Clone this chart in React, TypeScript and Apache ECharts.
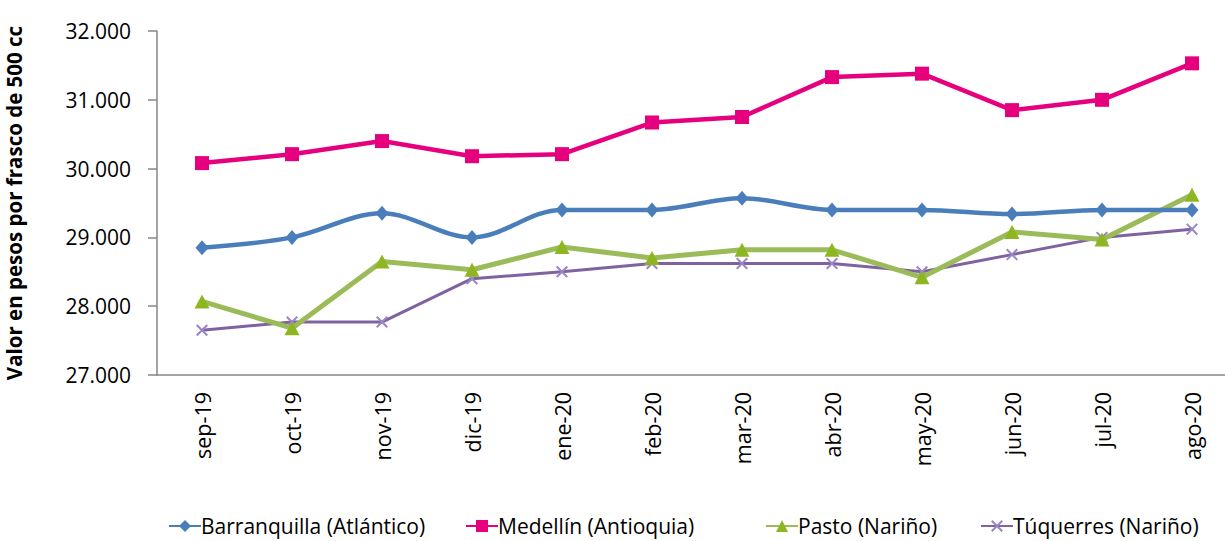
import React, { useEffect, useRef } from "react";
import * as echarts from "echarts";

const categories = ["sep-19", "oct-19", "nov-19", "dic-19", "ene-20", "feb-20", "mar-20", "abr-20", "may-20", "jun-20", "jul-20", "ago-20"];
const barranquilla = [28850, 29000, 29350, 29000, 29400, 29400, 29570, 29400, 29400, 29340, 29400, 29400];
const medellin = [30080, 30210, 30400, 30180, 30210, 30670, 30750, 31330, 31380, 30850, 31000, 31530];
const pasto = [28070, 27680, 28650, 28530, 28860, 28700, 28820, 28820, 28420, 29080, 28970, 29620];
const tuquerres = [27650, 27770, 27770, 28400, 28500, 28620, 28620, 28620, 28500, 28750, 29000, 29120];
const seriesNames = ["Barranquilla (Atlántico)", "Medellín (Antioquia)", "Pasto (Nariño)", "Túquerres (Nariño)"];

const FONT = "'Open Sans', 'Noto Sans', sans-serif";
const X_SYMBOL = "path://M0,1.2L1.2,0L10,8.8L8.8,10Z M8.8,0L10,1.2L1.2,10L0,8.8Z";
const legendLefts = [168, 465, 765, 980];

export default function App() {
  const ref = useRef<HTMLDivElement>(null);
  useEffect(() => {
    if (!ref.current) return;
    const chart = echarts.init(ref.current, null, { renderer: "svg" });
    chart.setOption({
      animation: false,
      backgroundColor: "#ffffff",
      textStyle: { fontFamily: FONT },
      grid: { left: 157, right: -12, top: 31, bottom: 166, containLabel: false, outerBoundsMode: "none" },
      legend: seriesNames.map((n, i) => ({
        left: legendLefts[i],
        top: 515,
        padding: 0,
        itemWidth: 32,
        itemHeight: 15,
        selectedMode: false,
        textStyle: { fontSize: 21, lineHeight: 22, color: "#000", fontFamily: FONT, padding: [0, 0, 0, -5] },
        data: [n],
      })),
      xAxis: {
        type: "category",
        data: categories,
        boundaryGap: true,
        axisLine: { show: true, lineStyle: { color: "#868686", width: 1.5 } },
        axisTick: { show: false },
        axisLabel: { rotate: 90, margin: 17, fontSize: 21.5, color: "#000", fontFamily: FONT, interval: 0 },
        splitLine: { show: false },
      },
      yAxis: {
        type: "value",
        min: 27000,
        max: 32000,
        interval: 1000,
        name: "Valor en pesos por frasco de 500 cc",
        nameLocation: "middle",
        nameGap: 133,
        nameTextStyle: { fontSize: 20.5, lineHeight: 21, fontWeight: "bold", color: "#000", fontFamily: FONT },
        axisLine: { show: true, lineStyle: { color: "#868686", width: 1.5 } },
        axisTick: { show: true, inside: false, length: 9, lineStyle: { color: "#868686", width: 1.5 } },
        axisLabel: {
          margin: 26,
          fontSize: 21,
          color: "#000",
          fontFamily: FONT,
          formatter: (v: number) => v.toLocaleString("de-DE"),
        },
        splitLine: { show: false },
      },
      series: [
        {
          name: seriesNames[0],
          type: "line",
          data: barranquilla,
          smooth: 0.35,
          symbol: "diamond",
          symbolSize: [13, 15],
          lineStyle: { color: "#4A7EBB", width: 4.5 },
          itemStyle: { color: "#4A7EBB" },
          z: 4,
        },
        {
          name: seriesNames[1],
          type: "line",
          data: medellin,
          symbol: "rect",
          symbolSize: 14,
          lineStyle: { color: "#E6007E", width: 4.5 },
          itemStyle: { color: "#E6007E" },
          z: 3,
        },
        {
          name: seriesNames[2],
          type: "line",
          data: pasto,
          symbol: "triangle",
          symbolSize: [15, 14],
          lineStyle: { color: "#9BBB59", width: 5 },
          itemStyle: { color: "#8DB621" },
          z: 2,
        },
        {
          name: seriesNames[3],
          type: "line",
          data: tuquerres,
          symbol: X_SYMBOL,
          symbolSize: 12,
          lineStyle: { color: "#7F63A1", width: 3 },
          itemStyle: { color: "#9A86C2" },
          z: 1,
        },
      ],
    });
    return () => chart.dispose();
  }, []);
  return <div ref={ref} style={{ position: "absolute", left: 0, top: 0, width: 1225, height: 541 }} />;
}
